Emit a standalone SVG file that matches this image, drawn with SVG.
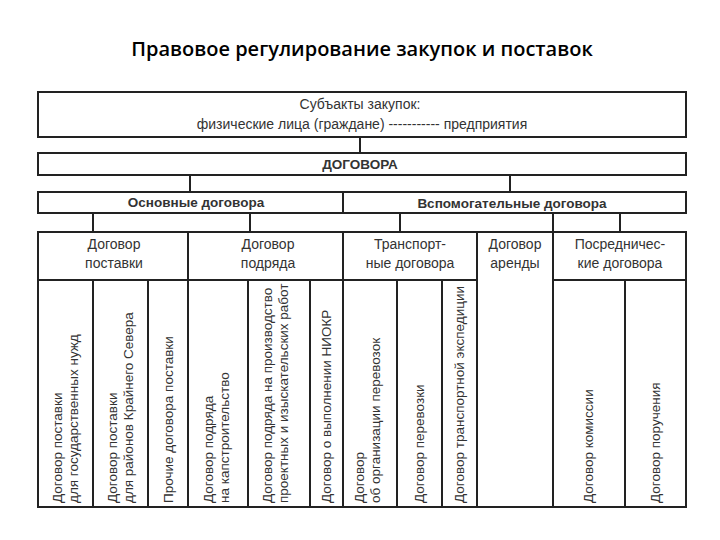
<svg xmlns="http://www.w3.org/2000/svg" width="720" height="540" viewBox="0 0 720 540">
<style>
.b{fill:#fff;stroke:#222;stroke-width:2}
.t{font-family:"Liberation Sans",Arial,sans-serif;font-size:14px;fill:#333;text-anchor:middle}
.h{font-family:"Liberation Sans",Arial,sans-serif;font-size:13.5px;font-weight:bold;fill:#333;text-anchor:middle}
.v{font-family:"Liberation Sans",Arial,sans-serif;font-size:13.5px;fill:#333}
.c{stroke:#222;stroke-width:2}
</style>
<rect width="720" height="540" fill="#fff"/>
<text x="362" y="56" font-family="Open Sans,Liberation Sans,sans-serif" font-size="20" font-weight="600" text-anchor="middle" fill="#000">Правовое регулирование закупок и поставок</text>
<g id="connectors" class="c">
<line x1="360" y1="137" x2="360" y2="153"/>
<line x1="190" y1="175" x2="190" y2="192"/>
<line x1="510" y1="175" x2="510" y2="192"/>
<line x1="93" y1="213" x2="93" y2="232"/>
<line x1="250" y1="213" x2="250" y2="232"/>
<line x1="400" y1="213" x2="400" y2="232"/>
<line x1="553" y1="213" x2="553" y2="232"/>
<line x1="620" y1="213" x2="620" y2="232"/>
</g>
<g id="subjects"><rect class="b" x="38" y="92" width="648" height="45"/>
<text class="t" x="360" y="109">Субъакты закупок:</text>
<text class="t" x="362" y="129">физические лица (граждане) ----------- предприятия</text></g>
<g id="dogovora"><rect class="b" x="38" y="153" width="648" height="22"/><text class="h" x="360" y="169">ДОГОВОРА</text></g>
<g id="osn"><rect class="b" x="38" y="192" width="305" height="21"/><text class="h" x="196" y="207">Основные договора</text></g>
<g id="vsp"><rect class="b" x="343" y="192" width="343" height="21"/><text class="h" x="512" y="208">Вспомогательные договора</text></g>
<g id="postavki"><rect class="b" x="38" y="232" width="150" height="48"/><text class="t" x="114" y="249">Договор</text><text class="t" x="114" y="268">поставки</text></g>
<g id="podryada"><rect class="b" x="188" y="232" width="155" height="48"/><text class="t" x="268" y="249">Договор</text><text class="t" x="268" y="268">подряда</text></g>
<g id="transport"><rect class="b" x="343" y="232" width="134" height="48"/><text class="t" x="410" y="249">Транспорт-</text><text class="t" x="410" y="268">ные договора</text></g>
<g id="arendy"><rect class="b" x="477" y="232" width="76" height="275"/><text class="t" x="515" y="249">Договор</text><text class="t" x="515" y="268">аренды</text></g>
<g id="posred"><rect class="b" x="553" y="232" width="133" height="48"/><text class="t" x="620" y="249">Посредничес-</text><text class="t" x="620" y="268">кие договора</text></g>
<g id="cols">
<rect class="b" x="38" y="280" width="55" height="227"/>
<rect class="b" x="93" y="280" width="55" height="227"/>
<rect class="b" x="148" y="280" width="40" height="227"/>
<rect class="b" x="188" y="280" width="60" height="227"/>
<rect class="b" x="248" y="280" width="62" height="227"/>
<rect class="b" x="310" y="280" width="33" height="227"/>
<rect class="b" x="343" y="280" width="54" height="227"/>
<rect class="b" x="397" y="280" width="45" height="227"/>
<rect class="b" x="442" y="280" width="35" height="227"/>
<rect class="b" x="553" y="280" width="72" height="227"/>
<rect class="b" x="625" y="280" width="61" height="227"/>
</g>
<g class="v">
<text transform="translate(62,503) rotate(-90)">Договор поставки</text>
<text transform="translate(78,503) rotate(-90)">для государственных нужд</text>
<text transform="translate(117,503) rotate(-90)">Договор поставки</text>
<text transform="translate(133,503) rotate(-90)">для районов Крайнего Севера</text>
<text transform="translate(173,503) rotate(-90)">Прочие договора поставки</text>
<text transform="translate(213,503) rotate(-90)">Договор подряда</text>
<text transform="translate(229,503) rotate(-90)">на капстроительство</text>
<text transform="translate(272,503) rotate(-90)">Договор подряда на производство</text>
<text transform="translate(288,503) rotate(-90)">проектных и изыскательских работ</text>
<text transform="translate(331,503) rotate(-90)">Договор о выполнении НИОКР</text>
<text transform="translate(364,503) rotate(-90)">Договор</text>
<text transform="translate(380,503) rotate(-90)">об организации перевозок</text>
<text transform="translate(424,503) rotate(-90)">Договор перевозки</text>
<text transform="translate(464,503) rotate(-90)">Договор транспортной экспедиции</text>
<text transform="translate(593,503) rotate(-90)">Договор комиссии</text>
<text transform="translate(660,503) rotate(-90)">Договор поручения</text>
</g>
</svg>
